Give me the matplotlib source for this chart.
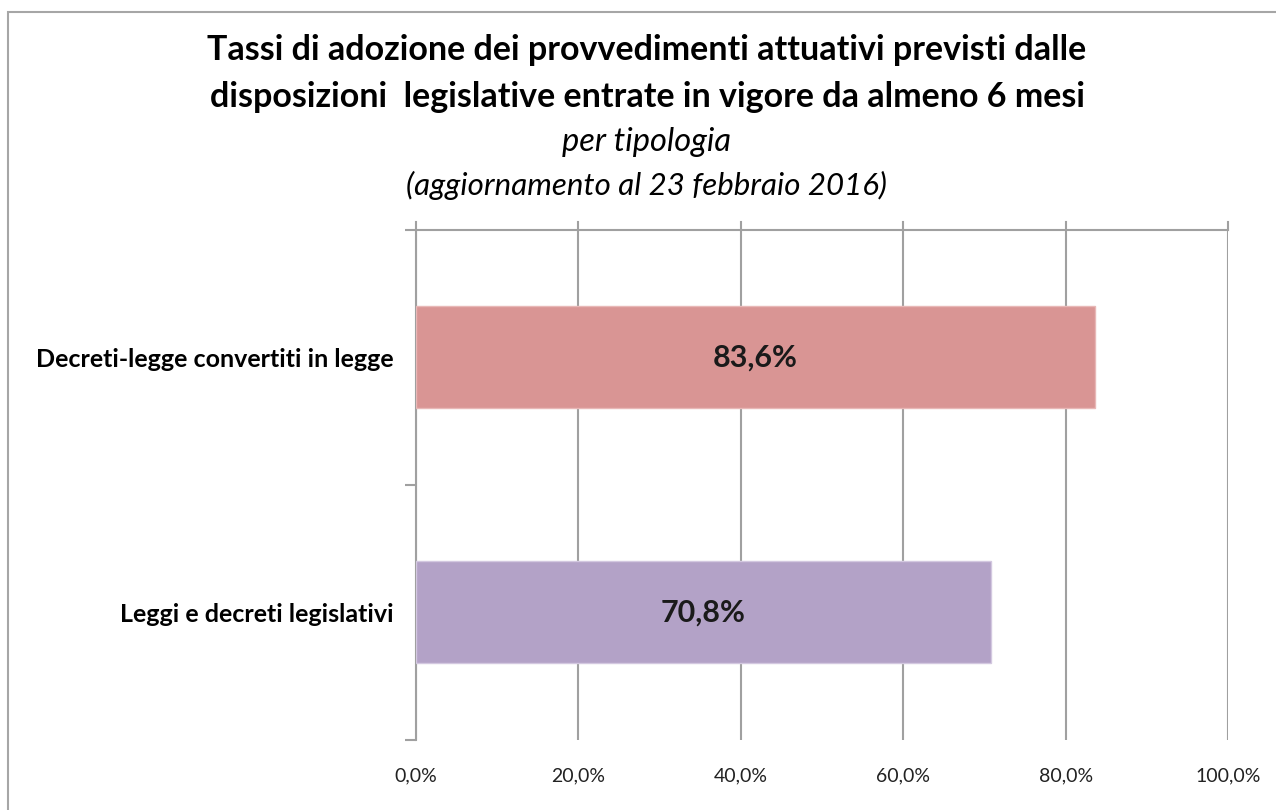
import matplotlib.pyplot as plt
from matplotlib.patches import Rectangle

plt.rcParams['font.family'] = ['Lato', 'DejaVu Sans']

categorie = ["Decreti-legge convertiti in legge", "Leggi e decreti legislativi"]
tassi = [83.6, 70.8]
colori = ["#D99594", "#B3A2C7"]
bordi = ["#E8B8B7", "#D3C8E0"]
tick_vals = [0, 20, 40, 60, 80, 100]
tick_labels = ["0,0%", "20,0%", "40,0%", "60,0%", "80,0%", "100,0%"]

W, H = 1276, 810
fig = plt.figure(figsize=(W / 100, H / 100), dpi=100)

# cornice del grafico (esce a destra e in basso)
fig.patches.append(Rectangle((8 / W, -0.05), 1.1, 1 - 12 / H + 0.05,
                             transform=fig.transFigure, fill=False,
                             edgecolor="#A6A6A6", linewidth=1.5))

ax = fig.add_axes([416 / W, 1 - 740 / H, (1228 - 416) / W, (740 - 230) / H])

y = list(range(len(categorie)))
ax.barh(y, tassi, height=0.4, color=colori, edgecolor=bordi, linewidth=1, zorder=3)
for yi, v in zip(y, tassi):
    ax.text(v / 2, yi, f"{v:.1f}%".replace(".", ","), ha="center", va="center",
            fontsize=22, fontweight="bold", color="#1a1a1a", zorder=4)

ax.set_xlim(0, 100)
ax.set_ylim(1.5, -0.5)
ax.set_xticks(tick_vals)
ax.set_xticklabels(tick_labels, fontsize=14, color="#222222")
ax.set_yticks(y)
ax.set_yticklabels(categorie, fontsize=18, fontweight="bold")
ax.tick_params(axis="y", length=0, pad=16)
ax.tick_params(axis="x", length=0, pad=20)
ax.set_yticks([-0.5, 0.5, 1.5], minor=True)
ax.tick_params(axis="y", which="minor", length=8, width=1.5, color="#A0A0A0")

ax.grid(axis="x", color="#A0A0A0", linewidth=1.5, zorder=0)
for s in ["right", "bottom"]:
    ax.spines[s].set_visible(False)
for s in ["left", "top"]:
    ax.spines[s].set_color("#A0A0A0")
    ax.spines[s].set_linewidth(1.5)
# piccoli segni sopra l'asse
for t in tick_vals:
    ax.plot([t, t], [-0.5, -0.53], color="#A0A0A0", linewidth=1.5, clip_on=False)

fig.text(647 / W, 1 - 50 / H, "Tassi di adozione dei provvedimenti attuativi previsti dalle",
         ha="center", va="center", fontsize=24.5, fontweight="bold")
fig.text(647 / W, 1 - 97 / H, "disposizioni  legislative entrate in vigore da almeno 6 mesi",
         ha="center", va="center", fontsize=24.5, fontweight="bold")
fig.text(647 / W, 1 - 142 / H, "per tipologia", ha="center", va="center",
         fontsize=23.5, style="italic")
fig.text(647 / W, 1 - 185 / H, "(aggiornamento al 23 febbraio 2016)", ha="center",
         va="center", fontsize=22.5, style="italic")

fig.savefig("out.png", dpi=100)
